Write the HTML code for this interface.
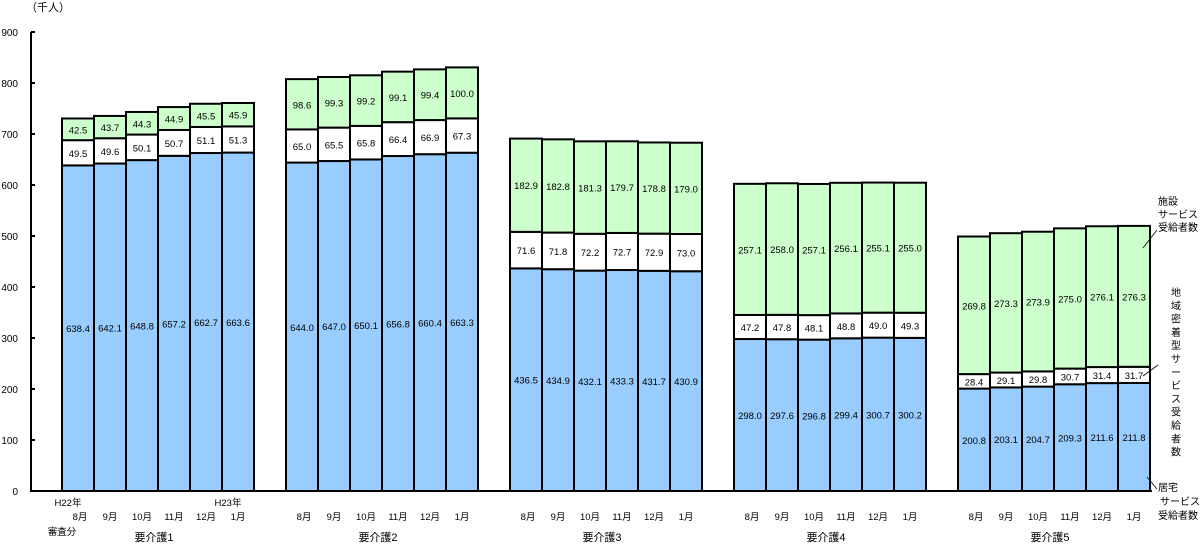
<!DOCTYPE html>
<html><head><meta charset="utf-8"><style>
body{margin:0;background:#fff;}
svg{display:block;font-family:"Liberation Sans","Noto Sans CJK JP",sans-serif;}
</style></head><body>
<svg id="chart" width="1203" height="544"></svg>
<script>
const groups=["要介護1","要介護2","要介護3","要介護4","要介護5"];
const months=["8月","9月","10月","11月","12月","1月"];
const yTicks=[0,100,200,300,400,500,600,700,800,900];
const residential=[[638.4,642.1,648.8,657.2,662.7,663.6],[644.0,647.0,650.1,656.8,660.4,663.3],[436.5,434.9,432.1,433.3,431.7,430.9],[298.0,297.6,296.8,299.4,300.7,300.2],[200.8,203.1,204.7,209.3,211.6,211.8]];
const community=[[49.5,49.6,50.1,50.7,51.1,51.3],[65.0,65.5,65.8,66.4,66.9,67.3],[71.6,71.8,72.2,72.7,72.9,73.0],[47.2,47.8,48.1,48.8,49.0,49.3],[28.4,29.1,29.8,30.7,31.4,31.7]];
const facility=[[42.5,43.7,44.3,44.9,45.5,45.9],[98.6,99.3,99.2,99.1,99.4,100.0],[182.9,182.8,181.3,179.7,178.8,179.0],[257.1,258.0,257.1,256.1,255.1,255.0],[269.8,273.3,273.9,275.0,276.1,276.3]];

const svg=document.getElementById('chart');
const NS='http://www.w3.org/2000/svg';
const y0=491,y900=32;
const yS=v=>y0-(v/900)*(y0-y900);
const xS=(g,i)=>62+g*224+i*32;
function mk(t,a,txt){const e=document.createElementNS(NS,t);for(const k in a)e.setAttribute(k,a[k]);if(txt!==undefined)e.textContent=txt;svg.appendChild(e);return e;}

let ax=mk('line',{x1:31,y1:32,x2:31,y2:492,stroke:'#000','stroke-width':2});


let xa=mk('line',{x1:30,y1:491,x2:1152,y2:491,stroke:'#000','stroke-width':2});


yTicks.forEach(v=>{
  const t=mk('line',{x1:31,y1:yS(v),x2:35,y2:yS(v),stroke:'#000','stroke-width':2});
  
  
  const l=mk('text',{x:18,y:yS(v)+4,'text-anchor':'end','font-size':10},String(v));
  
  
});
let u=mk('text',{x:26,y:11,'font-size':11},'（千人）');



const series=[[residential,'#99ccff','residential'],[community,'#ffffff','community'],[facility,'#ccffcc','facility']];
groups.forEach((gn,g)=>{
  months.forEach((m,i)=>{
    let base=0;
    const x=xS(g,i);
    series.forEach(([arr,col,nm])=>{
      const v=arr[g][i];
      const yt=yS(base+v), yb=yS(base);
      const r=mk('rect',{x:x,y:yt,width:32,height:yb-yt,fill:col,stroke:'#000','stroke-width':2});
      
      
      const t=mk('text',{x:x+16,y:(yt+yb)/2+4,'text-anchor':'middle','font-size':9.5},v.toFixed(1));
      
      
      base+=v;
    });
    const ml=mk('text',{x:x+16+(i==0?2:0),y:520,'text-anchor':'middle','font-size':9.5},m);
    
    
  });
  const gl=mk('text',{x:xS(g,3)-4,y:541,'text-anchor':'middle','font-size':11},gn);
  
  
});
[['H22年',68,506],['審査分',62,535],['H23年',228,506]].forEach(([s,x,y])=>{
  const t=mk('text',{x:x,y:y,'text-anchor':'middle','font-size':9.5},s);
  
  
});
[['施設',1158,205],['サービス',1158,218],['受給者数',1158,231]].forEach(([s,x,y])=>{
  const t=mk('text',{x:x,y:y,'font-size':10},s);
  
  
});
"地域密着型サービス受給者数".split('').forEach((c,k)=>{
  const t=mk('text',{x:1176,y:296+k*13.3,'text-anchor':'middle','font-size':10},c);
  
  
});
[['居宅',1158,491],['サービス',1160,505],['受給者数',1158,519]].forEach(([s,x,y])=>{
  const t=mk('text',{x:x,y:y,'font-size':10},s);
  
  
});
[[1143,248,1157,230],[1143,376,1158,365],[1147,477,1157,489]].forEach(([a,b,c,d])=>{
  const l=mk('line',{x1:a,y1:b,x2:c,y2:d,stroke:'#000','stroke-width':0.8});
  
  
});
</script>
</body></html>
